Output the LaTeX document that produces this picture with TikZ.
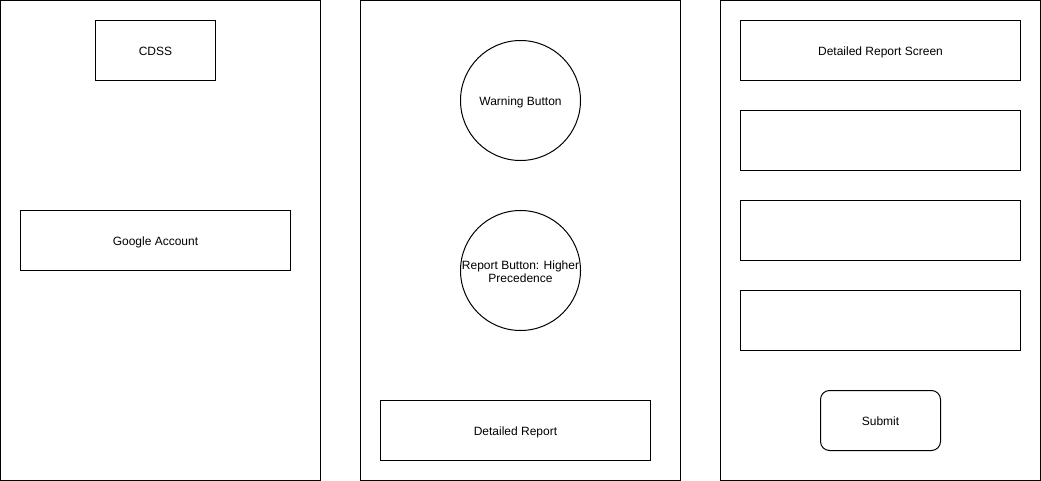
\documentclass[tikz,border=0pt]{standalone}
\usepackage{fontspec}
\setmainfont{Liberation Sans}
\usepackage{tikz}
\tikzset{
	panel/.style={
		rectangle, draw=black, line width=1pt, inner sep=0pt
	},
	%
	box/.style={
		rectangle, draw=black, line width=1pt, inner sep=0pt,
		text height=10.4pt, text depth=0pt,
		font=\fontsize{12}{14}\selectfont
	},
	%
	roundbox/.style={
		box, rounded corners=9pt
	},
	%
	button/.style={
		circle, draw=black, line width=1pt, inner sep=0pt,
		minimum size=120pt, align=center,
		font=\fontsize{12}{13}\selectfont
	}
}

\begin{document}
\begin{tikzpicture}[x=1pt,y=-1pt]
\useasboundingbox (0,0) rectangle (1041,481);

%panels
\node (login) [panel, minimum width=320pt, minimum height=480pt] at (160.5,240.5) {};
\node (home) [panel, minimum width=320pt, minimum height=480pt] at (520.5,240.5) {};
\node (report) [panel, minimum width=320pt, minimum height=480pt] at (880.5,240.5) {};

%login screen
\node (cdss) [box, minimum width=120pt, minimum height=60pt] at (155.5,50.5) {CDSS};
\node (google) [box, minimum width=270pt, minimum height=60pt] at (155.5,240.5) {Google Account};

%home screen
\node (warning) [button, text height=10.4pt, text depth=0pt] at (520.5,100.5) {Warning Button};
\node (reportbtn) [button, text height=24.8pt, text depth=0pt] at (520.5,270.5) {Report Button: Higher\\Precedence};
\node (detailed) [box, minimum width=270pt, minimum height=60pt] at (515.5,430.5) {Detailed Report};

%report screen
\node (title) [box, minimum width=280pt, minimum height=60pt] at (880.5,50.5) {Detailed Report Screen};
\node (fieldA) [box, minimum width=280pt, minimum height=60pt] at (880.5,140.5) {};
\node (fieldB) [box, minimum width=280pt, minimum height=60pt] at (880.5,230.5) {};
\node (fieldC) [box, minimum width=280pt, minimum height=60pt] at (880.5,320.5) {};
\node (submit) [roundbox, minimum width=120pt, minimum height=60pt] at (880.5,420.5) {Submit};

\end{tikzpicture}
\end{document}
